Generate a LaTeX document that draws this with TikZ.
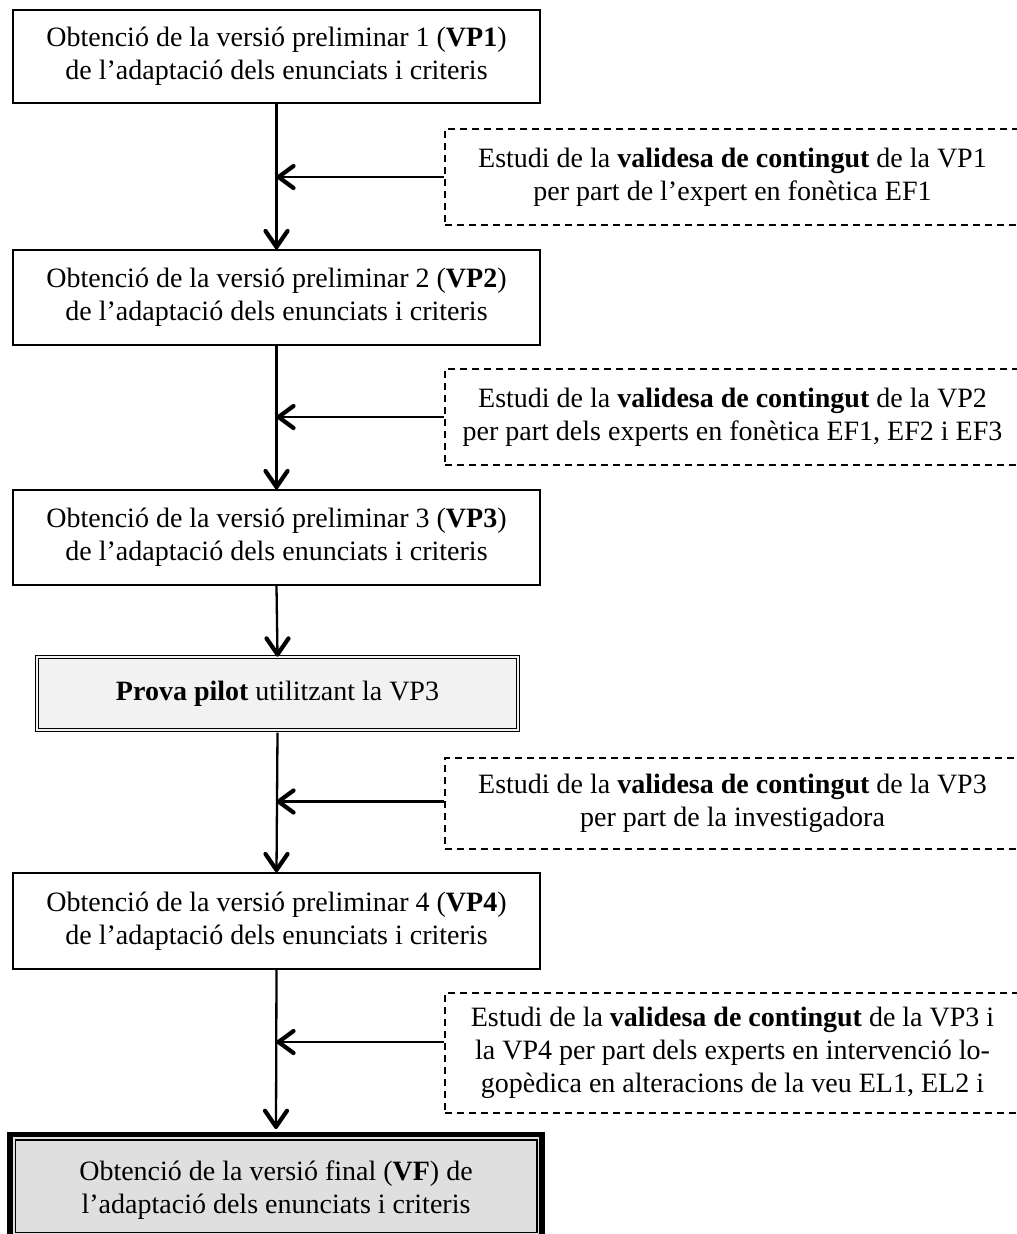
\documentclass[tikz,border=0pt]{standalone}
\usepackage{fontspec}
\setmainfont{Liberation Serif}
\definecolor{pilotfill}{HTML}{F2F2F2}
\definecolor{finalfill}{HTML}{DFDFDF}
\begin{document}
\begin{tikzpicture}[x=1pt,y=-1pt,
  txt/.style={font=\fontsize{28}{33}\selectfont, align=center},
  stepbox/.style={txt, draw, line width=2pt, rectangle, inner sep=0pt,
    minimum width=527, minimum height=95},
  studybox/.style={txt, draw, dashed, dash pattern=on 7pt off 5pt, line width=1.6pt,
    rectangle, inner sep=0pt, minimum width=575},
  conn/.style={line width=2.3pt},
  tipline/.style={line width=4.2pt, line cap=round, line join=round, solid},
  % open chevron heads
  downtip/.pic={\draw[tipline] (-11,-18) -- (0,-2) -- (11,-18);},
  lefttip/.pic={\draw[tipline] (17,-11) -- (2,0) -- (17,11);}
]
\useasboundingbox (0,0) rectangle (1017,1234);

% main steps
\node[stepbox, minimum height=93] (b1) at (276.5,56.5)
  {Obtenció de la versió preliminar 1 (\textbf{VP1})\\de l’adaptació dels enunciats i criteris};
\node[stepbox] (b2) at (276.5,297.5)
  {Obtenció de la versió preliminar 2 (\textbf{VP2})\\de l’adaptació dels enunciats i criteris};
\node[stepbox] (b3) at (276.5,537.5)
  {Obtenció de la versió preliminar 3 (\textbf{VP3})\\de l’adaptació dels enunciats i criteris};
\node[txt, draw, rectangle, inner sep=0pt, line width=1.2pt, double=pilotfill,
  double distance=2pt, fill=pilotfill, minimum width=481, minimum height=73]
  (pilot) at (277.5,693.5) {\textbf{Prova pilot} utilitzant la VP3};
\node[stepbox, minimum height=96] (b4) at (276.5,921)
  {Obtenció de la versió preliminar 4 (\textbf{VP4})\\de l’adaptació dels enunciats i criteris};

% final version: heavy frame with a thin inner rule
\node[draw, line width=5.5pt, fill=finalfill, rectangle, inner sep=0pt,
  minimum width=532, minimum height=103] (fin) at (276,1186) {};
\draw[line width=1.5pt] ([shift={(8,8)}]fin.north west) rectangle ([shift={(-8,-8)}]fin.south east);
\node[txt] (fintext) at (276,1190)
  {Obtenció de la versió final (\textbf{VF}) de\\l’adaptació dels enunciats i criteris};

% content validity studies
\node[studybox, minimum height=96] (d1) at (732.5,177)
  {Estudi de la \textbf{validesa de contingut} de la VP1\\per part de l’expert en fonètica EF1};
\node[studybox, minimum height=96] (d2) at (732.5,417)
  {Estudi de la \textbf{validesa de contingut} de la VP2\\per part dels experts en fonètica EF1, EF2 i EF3};
\node[studybox, minimum height=91] (d3) at (732.5,803.5)
  {Estudi de la \textbf{validesa de contingut} de la VP3\\per part de la investigadora};
\node[studybox, minimum height=120] (d4) at (732.5,1053)
  {Estudi de la \textbf{validesa de contingut} de la VP3 i\\la VP4 per part dels experts en intervenció lo-\\gopèdica en alteracions de la veu EL1, EL2 i};

% flow
\draw[conn] (b1.south) -- (b2.north) pic {downtip};
\draw[conn] (b2.south) -- (b3.north) pic {downtip};
\draw[conn] (b3.south) -- (pilot.north) pic {downtip};
\draw[conn] ([yshift=-2pt]pilot.south) -- (b4.north) pic {downtip};
\draw[conn] (b4.south) -- ([yshift=3pt]fin.north) pic {downtip};

% study inputs joining the flow
\draw[conn] (d1.west) -- (d1.west -| b1.south) pic {lefttip};
\draw[conn] (d2.west) -- (d2.west -| b2.south) pic {lefttip};
\draw[conn] ([yshift=2pt]d3.west) -- ([yshift=2pt]d3.west -| b3.south) pic {lefttip};
\draw[conn] ([yshift=11pt]d4.west) -- ([yshift=11pt]d4.west -| b4.south) pic {lefttip};
\end{tikzpicture}
\end{document}
